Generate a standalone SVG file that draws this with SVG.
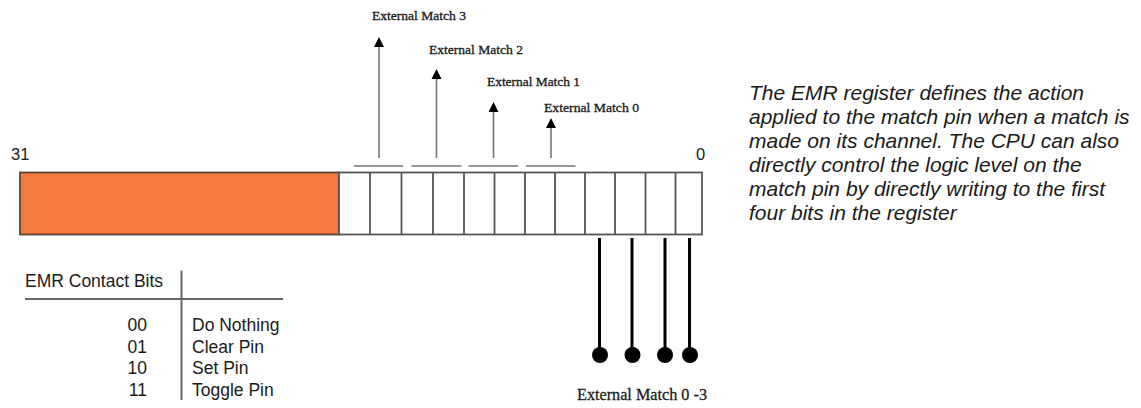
<svg xmlns="http://www.w3.org/2000/svg" width="1141" height="408" viewBox="0 0 1141 408">
<style>
.serif{font-family:"Liberation Serif","Times New Roman",serif;fill:#1a1a1a;stroke:#1a1a1a;stroke-width:0.3}
.sans{font-family:"Liberation Sans",Arial,sans-serif;fill:#1a1a1a}
.cell{fill:#fff;stroke:#555;stroke-width:1.8}
.thin{stroke:#777;stroke-width:1.6;fill:none}
.pin{stroke:#000;stroke-width:3}
.tbl{stroke:#666;stroke-width:2;fill:none}
</style>
<g id="register">
<rect x="20" y="172.5" width="319" height="62" fill="#f47a40" stroke="#5a4535" stroke-width="1.8"/>
<rect class="cell" x="339" y="172.5" width="363" height="62"/>
<path d="M370,172.5V234.5M401.5,172.5V234.5M433,172.5V234.5M464,172.5V234.5M494.5,172.5V234.5M525,172.5V234.5M555,172.5V234.5M585,172.5V234.5M615,172.5V234.5M645.5,172.5V234.5M675.5,172.5V234.5" stroke="#555" stroke-width="1.8"/>
<text class="sans" x="11" y="160" font-size="16.5">31</text>
<text class="sans" x="696" y="160" font-size="16.5">0</text>
</g>
<g id="connectors">
<path class="thin" d="M354,166H403M411.5,166H461.5M468.5,166H518M526,166H575.5"/>
<line class="thin" x1="379" y1="158" x2="379" y2="46"/>
<line class="thin" x1="436.5" y1="158" x2="436.5" y2="78"/>
<line class="thin" x1="493.5" y1="158" x2="493.5" y2="111"/>
<line class="thin" x1="551" y1="158" x2="551" y2="127"/>
<path d="M374,47L379,37L384,47Z M431.5,79L436.5,69L441.5,79Z M488.5,112L493.5,102L498.5,112Z M546,128L551,118L556,128Z" fill="#000"/>
<path class="pin" d="M599.5,238V355M632,238V355M665,238V355M689.5,238V355"/>
<circle cx="600" cy="355" r="8"/>
<circle cx="632.5" cy="355" r="8"/>
<circle cx="665" cy="355" r="8"/>
<circle cx="690" cy="355" r="8"/>
</g>
<g id="match-labels">
<text class="serif" x="372" y="20" font-size="12.5" textLength="94" lengthAdjust="spacingAndGlyphs">External Match 3</text>
<text class="serif" x="429" y="54" font-size="12.5" textLength="94" lengthAdjust="spacingAndGlyphs">External Match 2</text>
<text class="serif" x="487" y="86" font-size="12.5" textLength="93" lengthAdjust="spacingAndGlyphs">External Match 1</text>
<text class="serif" x="544" y="111.5" font-size="12.5" textLength="95" lengthAdjust="spacingAndGlyphs">External Match 0</text>
<text class="serif" x="577" y="400" font-size="17" textLength="130" lengthAdjust="spacingAndGlyphs">External Match 0 -3</text>
</g>
<g id="table">
<path class="tbl" d="M25,299H283M181.5,270.5V400"/>
<text class="sans" x="25" y="287" font-size="17.5">EMR Contact Bits</text>
<g class="sans" font-size="17.5">
<text x="147" y="331" text-anchor="end">00</text>
<text x="147" y="352.5" text-anchor="end">01</text>
<text x="147" y="374" text-anchor="end">10</text>
<text x="147" y="395.5" text-anchor="end">11</text>
<text x="192" y="331">Do Nothing</text>
<text x="192" y="352.5">Clear Pin</text>
<text x="192" y="374">Set Pin</text>
<text x="192" y="395.5">Toggle Pin</text>
</g>
</g>
<g id="description" class="sans" font-size="21" font-style="italic">
<text x="749" y="100">The EMR register defines the action</text>
<text x="749" y="124">applied to the match pin when a match is</text>
<text x="749" y="148">made on its channel. The CPU can also</text>
<text x="749" y="172">directly control the logic level on the</text>
<text x="749" y="196">match pin by directly writing to the first</text>
<text x="749" y="220">four bits in the register</text>
</g>
</svg>
